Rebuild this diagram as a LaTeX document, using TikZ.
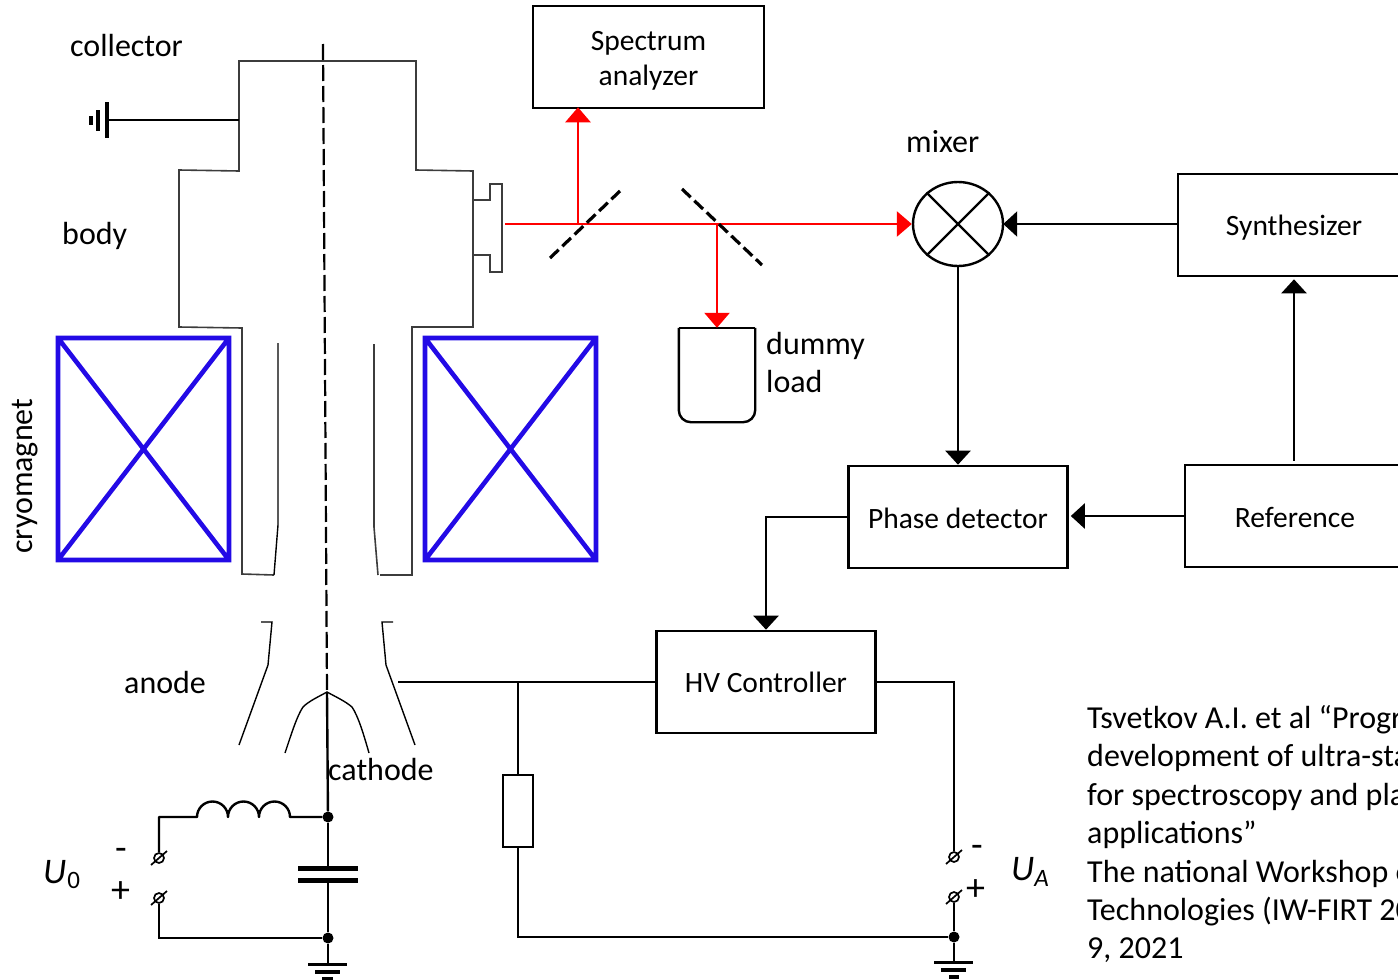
\documentclass[tikz,border=0pt]{standalone}
\usepackage{fontspec}
\setmainfont{Carlito}
\usetikzlibrary{arrows.meta,calc,shapes.geometric}
\definecolor{magblue}{RGB}{35,10,230}
\definecolor{tubegray}{RGB}{60,60,60}
\tikzset{
  x=1pt,y=-1pt,
  box/.style={draw=black,line width=2.6pt,inner sep=0pt,align=center,font=\fontsize{29.5}{35}\selectfont},
  lbl/.style={inner sep=0pt,anchor=base west,font=\fontsize{32}{38}\selectfont},
  pm/.style={lbl,font=\fontsize{38}{38}\selectfont},
  wire/.style={draw=black,line width=2.4pt},
  tube/.style={draw=tubegray,line width=1.6pt},
  thin tube/.style={draw=black,line width=1.4pt},
  sig/.style={wire,-{Triangle[length=14pt,width=25pt]}},
  beam/.style={draw=red,line width=2.6pt},
  beamarrow/.style={beam,-{Triangle[length=15pt,width=25pt]}},
  mirror/.style={draw=black,line width=3.2pt,dash pattern=on 12pt off 5pt},
  magnet/.style={draw=magblue,line width=4.6pt,miter limit=2},
  dot/.style={circle,fill=black,inner sep=0pt,minimum size=11pt},
  term/.style={circle,draw=black,line width=1.7pt,inner sep=0pt,minimum size=10pt},
}
\newcommand{\termslash}[1]{\draw[black,line width=1.7pt] ($(#1)+(-8,7)$) -- ($(#1)+(8,-7)$);}
\begin{document}
\begin{tikzpicture}
\useasboundingbox (0,0) rectangle (1398,980);
\clip (0,0) rectangle (1398,980);
% blocks
\node[box,minimum width=231pt,minimum height=102pt] (spec) at (648.5,57) {\rule{0pt}{27pt}Spectrum\\analyzer};
\node[box,minimum width=232pt,minimum height=102pt] (synth) at (1294,225) {\rule{0pt}{26pt}Synthesizer};
\node[box,minimum width=220pt,minimum height=102pt] (ref) at (1295,516) {\rule{0pt}{23pt}Reference};
\node[box,minimum width=219pt,minimum height=102pt] (phase) at (958,517) {\rule{0pt}{23pt}Phase detector};
\node[box,minimum width=219pt,minimum height=102pt] (hv) at (766,682) {\rule{0pt}{22pt}HV Controller};
\node[ellipse,draw=black,line width=2.4pt,minimum width=90pt,minimum height=84pt,inner sep=0pt] (mix) at (958,224) {};
\draw[wire] (mix.45) -- (mix.225) (mix.135) -- (mix.315);
% labels
\node[lbl] (lcoll) at (70,56.5) {collector};
\node[lbl] (lbody) at (62,244.5) {body};
\node[lbl] (lanode) at (124,693.5) {anode};
\node[lbl] (lcath) at (328,780.5) {cathode};
\node[lbl] (lmix) at (906,152.5) {mixer};
\node[lbl] (ldummy) at (766,354.5) {dummy};
\node[lbl] (lload) at (766,392.5) {load};
\node[lbl,rotate=90] (lcryo) at (32,554) {cryomagnet};
\node[lbl,font=\fontsize{36}{40}\selectfont\itshape] (lu0) at (43,883) {U\kern1pt\raisebox{-5pt}{\fontsize{25}{25}\selectfont\upshape 0}};
\node[lbl,font=\fontsize{36}{40}\selectfont\itshape] (lua) at (1011,880) {U\raisebox{-6pt}{\fontsize{25}{25}\selectfont A}};
\node[pm] (um) at (115,860) {-};
\node[pm] (up) at (111,902) {+};
\node[pm] (am) at (971,857) {-};
\node[pm] (ap) at (966,900) {+};
\node[lbl] (c1) at (1087,728.5) {Tsvetkov A.I. et al “Progr};
\node[lbl] (c2) at (1087,766.5) {development of ultra-sta};
\node[lbl] (c3) at (1087,805.5) {for spectroscopy and pla};
\node[lbl] (c4) at (1087,843.5) {applications”};
\node[lbl] (c5) at (1087,882.5) {The national Workshop o};
\node[lbl] (c6) at (1087,920.5) {Technologies (IW-FIRT 20};
\node[lbl] (c7) at (1087,958.5) {9, 2021};
% magnets
\draw[magnet] (58,338) rectangle (229,560) (58,338) -- (229,560) (229,338) -- (58,560);
\draw[magnet] (425,338) rectangle (596,560) (425,338) -- (596,560) (596,338) -- (425,560);
% tube
\draw[tube] (274,575) -- (242,574) -- (242,328) -- (179,327) -- (179,170) -- (239,171) -- (239,61) -- (416,61) -- (416,170) -- (473,171) -- (473,327) -- (412,327) -- (412,575) -- (380,575);
\draw[thin tube] (278,343) -- (278,525) -- (274,575);
\draw[tube] (374,344) -- (374,527) -- (378,575);
\draw[tube] (473,200) -- (490,200) -- (490,184) -- (502,184) -- (502,272) -- (490,272) -- (490,255) -- (473,255);
\draw[thin tube] (261,622) -- (272,622) -- (268,665) -- (239,745);
\draw[thin tube] (393,622) -- (382,622) -- (386,665) -- (415,745);
\coordinate (ctop) at (327,692);
\draw[thin tube] (285,753) .. controls (292,732) and (297,716) .. (303,707) .. controls (309,701) and (318,697) .. (ctop) .. controls (336,697) and (345,701) .. (352,707) .. controls (358,716) and (363,732) .. (369,753);
\coordinate (atop) at (323,44);
\draw[black,line width=2.2pt,dash pattern=on 16pt off 5pt] (atop) -- (ctop);
% collector ground
\coordinate (collgnd) at (107,120);
\coordinate (collwall) at (239,120);
\draw[wire] (collwall) -- (collgnd);
\draw[black,line width=3.4pt] (107,102) -- (107,138) (98,110) -- (98,131);
\draw[black,line width=3.4pt] (91,116) -- (91,125);
% cathode circuit
\node[dot] (dA) at (328,817) {};
\node[dot] (dB) at (328,938) {};
\coordinate (capT) at (328,868);
\coordinate (capB) at (328,880);
\draw[wire] (ctop) -- (dA);
\draw[wire] (dA) -- (capT) (capB) -- (dB);
\draw[black,line width=5pt] (298,868) -- (358,868) (298,880) -- (358,880);
\node[term] (t1) at (159,858) {};
\node[term] (t2) at (159,898) {};
\termslash{t1}\termslash{t2}
\draw[wire,line join=round] (t1) -- (159,817) -- (197,817) arc[start angle=180,end angle=360,radius=15.5] arc[start angle=180,end angle=360,radius=15.5] arc[start angle=180,end angle=360,radius=15.5] -- (dA);
\draw[wire] (t2) -- (159,938) -- (dB);
\draw[wire] (dB) -- (328,964);
\draw[black,line width=3.4pt] (308,964.5) -- (347,964.5) (315,972) -- (340,972) (322,979) -- (333,979);
% anode circuit
\node[draw=black,line width=2.4pt,minimum width=30pt,minimum height=72pt,inner sep=0pt] (res) at (518,811) {};
\coordinate (aL) at (398,682);
\coordinate (aJ) at (518,682);
\node[dot] (dC) at (954,937) {};
\node[term] (t3) at (954,857) {};
\node[term] (t4) at (954,897) {};
\termslash{t3}\termslash{t4}
\draw[wire] (hv.west) -- (aL);
\draw[wire] (aJ) -- (res.north);
\draw[wire] (res.south) |- (dC);
\draw[wire] (hv.east) -- (954,682) -- (t3);
\draw[wire] (t4) -- (dC);
\draw[wire] (dC) -- (954,962);
\draw[black,line width=3.4pt] (934,962.5) -- (973,962.5) (941,970) -- (966,970) (949,977) -- (959,977);
% signal connectors
\draw[sig,shorten >=-1pt] (synth.west |- mix.east) -- (mix.east);
\draw[sig] (mix.south) -- (phase.north);
\draw[sig,shorten >=2pt,shorten <=3pt] (ref.north -| 1294,0) -- (synth.south -| 1294,0);
\draw[sig,shorten >=2pt] (ref.west) -- (ref.west -| phase.east);
\draw[sig] (phase.west) -| (hv.north);
% beam and mirrors
\coordinate (bS) at (505,224);
\coordinate (b1) at (578,224);
\coordinate (b2) at (717,224);
\draw[beamarrow] (bS) -- (mix.west);
\draw[beamarrow,shorten >=-2pt] (b1) -- (b1 |- spec.south);
\node[inner sep=0pt,minimum width=76pt,minimum height=94pt] (load) at (717,375) {};
\draw[wire,rounded corners=12pt] (load.north west) -- (load.south west) -- (load.south east) -- (load.north east);
\draw[wire] (load.north west) -- (load.north east);
\draw[beamarrow] (b2) -- (load.north);
\draw[mirror] (550,258) -- (620,191);
\draw[mirror] (682,189) -- (762,265);
\end{tikzpicture}
\end{document}
